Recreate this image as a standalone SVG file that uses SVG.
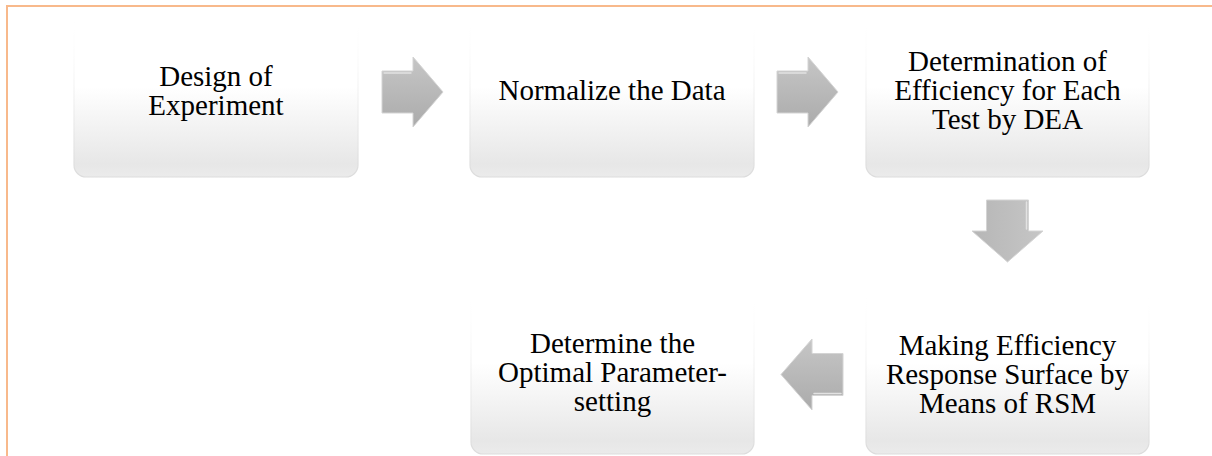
<svg xmlns="http://www.w3.org/2000/svg" width="1212" height="456" viewBox="0 0 1212 456">
<defs>
<linearGradient id="boxFill" x1="0" y1="0" x2="0" y2="1">
<stop offset="0" stop-color="#ffffff"/>
<stop offset="0.45" stop-color="#ffffff"/>
<stop offset="0.92" stop-color="#e7e7e7"/>
<stop offset="1" stop-color="#ebebeb"/>
</linearGradient>
<linearGradient id="boxEdge" x1="0" y1="0" x2="0" y2="1">
<stop offset="0" stop-color="#ffffff" stop-opacity="0"/>
<stop offset="0.4" stop-color="#f6f6f6"/>
<stop offset="1" stop-color="#dcdcdc"/>
</linearGradient>
<linearGradient id="arrowH" x1="0" y1="0" x2="0" y2="1">
<stop offset="0" stop-color="#c6c6c6"/>
<stop offset="1" stop-color="#ababab"/>
</linearGradient>
<linearGradient id="arrowV" x1="0" y1="0" x2="1" y2="0">
<stop offset="0" stop-color="#b6b6b6"/>
<stop offset="1" stop-color="#c6c6c6"/>
</linearGradient>
<style>
.box{fill:url(#boxFill);stroke:url(#boxEdge);stroke-width:1.2}
.lbl{font-family:"Liberation Serif","Times New Roman",serif;font-size:29px;fill:#000;text-anchor:middle}
.arrH{fill:url(#arrowH);stroke:#d4d4d4;stroke-width:1}
.arrV{fill:url(#arrowV);stroke:#d4d4d4;stroke-width:1}
.bevel{fill:none;stroke:#e2e2e2;stroke-width:1.5;stroke-linecap:round}
.frame{stroke:#f8b98b;stroke-width:2;fill:none}
</style>
</defs>
<rect width="1212" height="456" fill="#ffffff"/>
<path class="frame" d="M7,456 V6 H1212"/>

<g id="connectors">
<polygon class="arrH" points="382,71 413,71 413,57 443,92 413,127 413,113 382,113"/>
<path class="bevel" d="M384,73 H411"/>
<polygon class="arrH" points="777,71 808,71 808,57 838,92 808,127 808,113 777,113"/>
<path class="bevel" d="M779,73 H806"/>
<polygon class="arrV" points="986.5,200 1028.5,200 1028.5,231 1043,231 1007.5,262 972,231 986.5,231"/>
<path class="bevel" d="M1026.5,202 V229"/>
<polygon class="arrH" points="843,353.5 812,353.5 812,339 781,374.5 812,410 812,395.5 843,395.5"/>
<path class="bevel" d="M814,393.5 H841"/>
</g>

<g id="node1">
<rect class="box" x="74" y="13" width="284" height="164" rx="12"/>
<text class="lbl"><tspan x="216" y="86">Design of</tspan><tspan x="216" y="115">Experiment</tspan></text>
</g>
<g id="node2">
<rect class="box" x="470" y="13" width="284" height="164" rx="12"/>
<text class="lbl" x="612" y="100">Normalize the Data</text>
</g>
<g id="node3">
<rect class="box" x="866" y="13" width="283" height="164" rx="12"/>
<text class="lbl"><tspan x="1007.5" y="71">Determination of</tspan><tspan x="1007.5" y="100">Efficiency for Each</tspan><tspan x="1007.5" y="129">Test by DEA</tspan></text>
</g>
<g id="node4">
<rect class="box" x="866" y="289" width="283" height="165" rx="12"/>
<text class="lbl"><tspan x="1007.5" y="355">Making Efficiency</tspan><tspan x="1007.5" y="384">Response Surface by</tspan><tspan x="1007.5" y="413">Means of RSM</tspan></text>
</g>
<g id="node5">
<rect class="box" x="471" y="289" width="283" height="165" rx="12"/>
<text class="lbl"><tspan x="612.5" y="353">Determine the</tspan><tspan x="612.5" y="382">Optimal Parameter-</tspan><tspan x="612.5" y="411">setting</tspan></text>
</g>
</svg>
